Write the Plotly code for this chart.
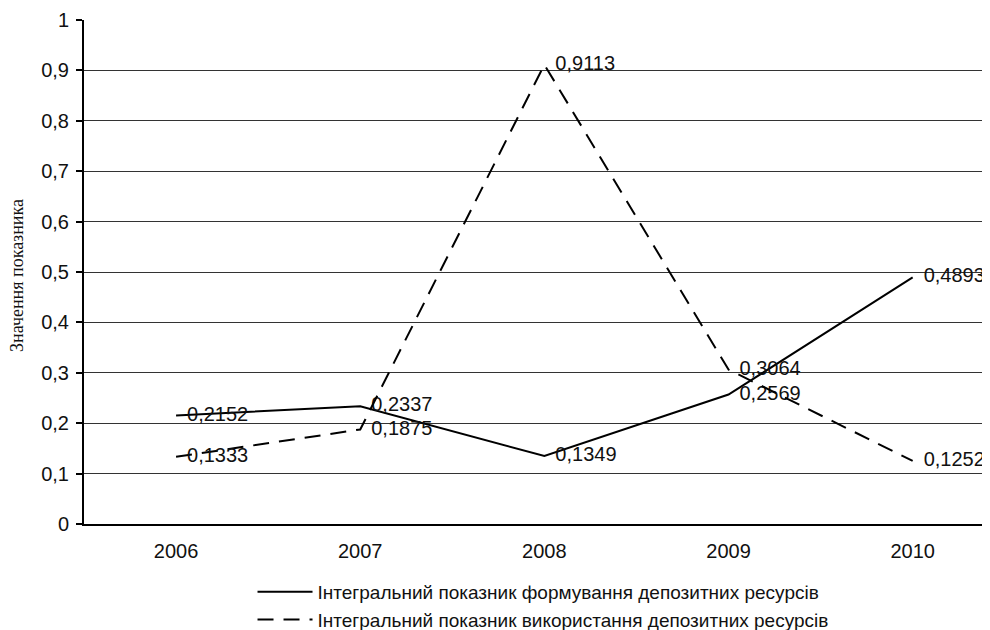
import plotly.graph_objects as go

years = ["2006", "2007", "2008", "2009", "2010"]
formation = [0.2152, 0.2337, 0.1349, 0.2569, 0.4893]
usage = [0.1333, 0.1875, 0.9113, 0.3064, 0.1252]
series_names = [
    "Інтегральний показник формування депозитних ресурсів",
    "Інтегральний показник використання депозитних ресурсів",
]
y_tickvals = [0, 0.1, 0.2, 0.3, 0.4, 0.5, 0.6, 0.7, 0.8, 0.9, 1]
y_ticktext = ["0", "0,1", "0,2", "0,3", "0,4", "0,5", "0,6", "0,7", "0,8", "0,9", "1"]
grid_vals = [0.1, 0.2, 0.3, 0.4, 0.5, 0.6, 0.7, 0.8, 0.9]
y_title = "Значення показника"


def fmt(v):
    return f"{v:.4f}".replace(".", ",")


FONT = "Liberation Sans, Arial, sans-serif"
INVISIBLE = "rgba(0,0,0,0)"

fig = go.Figure()
fig.add_trace(go.Scatter(
    x=years, y=formation, name=series_names[0],
    mode="lines+markers+text", text=[fmt(v) for v in formation],
    textposition="middle right",
    textfont=dict(family=FONT, size=20, color="#111"),
    marker=dict(size=16, color=INVISIBLE),
    line=dict(color="black", width=2),
    yaxis="y",
))
fig.add_trace(go.Scatter(
    x=years, y=usage, name=series_names[1],
    mode="lines+markers+text", text=[fmt(v) for v in usage],
    textposition="middle right",
    textfont=dict(family=FONT, size=20, color="#111"),
    marker=dict(size=16, color=INVISIBLE),
    line=dict(color="black", width=2, dash="16px,10px"),
    yaxis="y2",
))

fig.update_layout(
    width=990, height=630,
    paper_bgcolor="white", plot_bgcolor="white",
    margin=dict(l=76, r=8, t=12, b=114, autoexpand=False),
    font=dict(family=FONT, size=18, color="#111"),
    showlegend=True,
    legend=dict(
        x=0.186, xanchor="left", y=-0.097, yanchor="top",
        font=dict(family=FONT, size=19, color="#111"),
        bgcolor="rgba(0,0,0,0)", itemwidth=55,
        tracegroupgap=0,
    ),
    xaxis=dict(
        type="category", range=[-0.5, 4.42],
        showline=True, linecolor="black", linewidth=2,
        showgrid=False, ticks="", zeroline=False,
        tickfont=dict(family=FONT, size=20, color="#111"),
        ticklabelstandoff=8,
    ),
    yaxis=dict(
        range=[0, 1], tickvals=y_tickvals, ticktext=y_ticktext,
        showline=True, linecolor="black", linewidth=2,
        ticks="outside", ticklen=6, tickcolor="black", tickwidth=1.5,
        showgrid=False, zeroline=False,
        tickfont=dict(family=FONT, size=20, color="#111"),
        ticklabelstandoff=3,
    ),
    yaxis2=dict(
        overlaying="y", side="left", range=[0, 1], tickvals=grid_vals,
        showticklabels=False, ticks="", showline=False, zeroline=False,
        showgrid=True, gridcolor="#333333", gridwidth=1,
    ),
    annotations=[dict(
        text=y_title, textangle=-90,
        xref="paper", yref="paper", x=-0.074, y=0.494,
        xanchor="center", yanchor="middle", showarrow=False,
        font=dict(family="Liberation Serif, Times New Roman, serif", size=18, color="#111"),
    )],
)

fig.write_html("out.html")
